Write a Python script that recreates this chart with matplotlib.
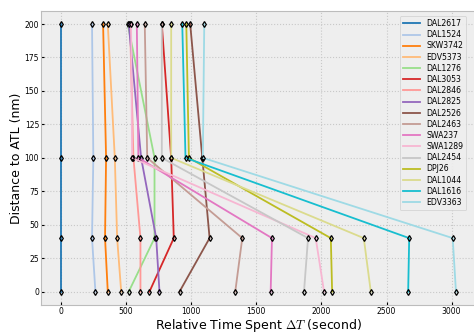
import matplotlib
matplotlib.use('Agg')
import matplotlib.pyplot as plt

plt.style.use('bmh')

# distance to ATL (nm) for each checkpoint
distance = [200, 100, 40, 0]

flights = ['DAL2617', 'DAL1524', 'SKW3742', 'EDV5373', 'DAL1276', 'DAL3053',
           'DAL2846', 'DAL2825', 'DAL2526', 'DAL2463', 'SWA237', 'SWA1289',
           'DAL2454', 'DPJ26', 'DAL1044', 'DAL1616', 'EDV3363']

# relative time spent at each checkpoint (seconds)
time_spent = {
    'DAL2617': [0, 0, 0, 0],
    'DAL1524': [238, 248, 238, 264],
    'SKW3742': [323, 346, 338, 359],
    'EDV5373': [359, 413, 431, 462],
    'DAL1276': [512, 718, 718, 520],
    'DAL3053': [774, 846, 866, 679],
    'DAL2846': [530, 556, 610, 610],
    'DAL2825': [520, 615, 731, 756],
    'DAL2526': [992, 1085, 1141, 910],
    'DAL2463': [643, 662, 1392, 1338],
    'SWA237': [582, 594, 1620, 1610],
    'SWA1289': [538, 546, 1956, 2020],
    'DAL2454': [774, 774, 1897, 1866],
    'DPJ26': [962, 982, 2072, 2082],
    'DAL1044': [846, 846, 2325, 2379],
    'DAL1616': [931, 956, 2674, 2666],
    'EDV3363': [1100, 1089, 3008, 3033],
}

colors = ['#1f77b4', '#aec7e8', '#ff7f0e', '#ffbb78', '#98df8a', '#d62728',
          '#ff9896', '#9467bd', '#8c564b', '#c49c94', '#e377c2', '#f7b6d2',
          '#c7c7c7', '#bcbd22', '#dbdb8d', '#17becf', '#9edae5']

fig = plt.figure(figsize=(4.74, 3.33), dpi=100)
ax = fig.add_axes([0.087, 0.084, 0.9186, 0.884])

handles = []
for name, c in zip(flights, colors):
    line, = ax.plot(time_spent[name], distance, color=c, linewidth=1.3, label=name)
    ax.plot(time_spent[name], distance, linestyle='none', marker='d',
            markersize=3, markerfacecolor='none', markeredgecolor='k',
            markeredgewidth=0.9)
    handles.append(line)

ax.set_xlim(-152, 3192)
ax.set_ylim(-10, 210)
ax.set_xticks([0, 500, 1000, 1500, 2000, 2500, 3000])
ax.set_yticks([0, 25, 50, 75, 100, 125, 150, 175, 200])
ax.tick_params(labelsize=5.5, length=2, pad=1.5)
ax.grid(True, linestyle=':', color='#c8c8c8', linewidth=0.8)
ax.set_xlabel('Relative Time Spent $\\Delta T$ (second)', fontsize=9, labelpad=0.5)
ax.set_ylabel('Distance to ATL (nm)', fontsize=9, labelpad=1.5)
ax.legend(handles=handles, loc='upper right', fontsize=5.6, labelspacing=0.28,
          handlelength=2.2, bbox_to_anchor=(0.985, 0.995), framealpha=0.9)

fig.savefig('out.png', dpi=100)
